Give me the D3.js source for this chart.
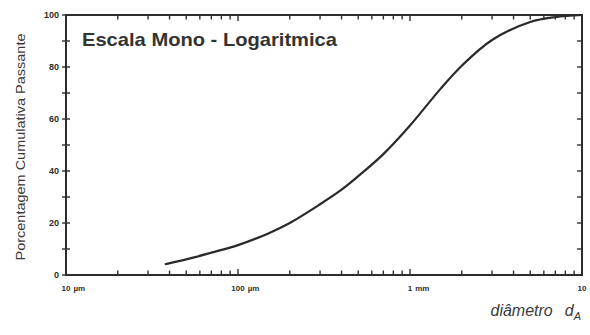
<!DOCTYPE html>
<html>
<head>
<meta charset="utf-8">
<script src="https://cdn.jsdelivr.net/npm/d3@7"></script>
<style>
  html, body { margin: 0; padding: 0; background: #fff; }
  svg { display: block; }
</style>
</head>
<body>
<svg id="chart" width="590" height="335"></svg>
<script>
// Grain size distribution: cumulative percent passing vs. diameter (µm)
const diameters = [38, 50, 70, 100, 150, 200, 300, 400, 500, 700, 1000, 1500, 2000, 3000, 5000, 7000, 10000];
const passing   = [4.2, 6.0, 8.6, 11.5, 16.0, 20.0, 27.2, 32.8, 38.0, 46.5, 57.5, 71.5, 80.5, 90.4, 97.3, 99.2, 100];

const xTickValues = [10, 100, 1000, 10000];
const xTickNumbers = ["10", "100", "1", "10"];
const xTickUnits = ["µm", "µm", "mm", "mm"];
const yTickValues = [0, 20, 40, 60, 80, 100];

const title = "Escala Mono - Logaritmica";
const yTitle = "Porcentagem Cumulativa Passante";

const svg = d3.select("#chart");
const ink = "#2e2e2e";
const font = "Liberation Sans, Arial, sans-serif";

const x = d3.scaleLog().domain([10, 10000]).range([66, 582]);
const y = d3.scaleLinear().domain([0, 100]).range([275, 15]);

// log ticks 1..9 per decade
const logTicks = x.ticks();
const isDecade = v => Math.abs(Math.log10(v) - Math.round(Math.log10(v))) < 1e-9;
const tenTicks = d3.range(0, 101, 10);

const g = svg.append("g");

// bottom ticks (inward)
g.selectAll("line.bt").data(logTicks).join("line").attr("class", "bt")
  .attr("x1", d => x(d)).attr("x2", d => x(d))
  .attr("y1", y(0)).attr("y2", d => y(0) - (isDecade(d) ? 6 : 4.5))
  .attr("stroke", ink).attr("stroke-width", 1.4);

// top ticks (inward)
g.selectAll("line.tt").data(logTicks).join("line").attr("class", "tt")
  .attr("x1", d => x(d)).attr("x2", d => x(d))
  .attr("y1", y(100)).attr("y2", d => y(100) + (isDecade(d) ? 6 : 4.5))
  .attr("stroke", ink).attr("stroke-width", 1.4);

// left ticks (crossing the axis)
g.selectAll("line.lt").data(tenTicks).join("line").attr("class", "lt")
  .attr("x1", x(10) - 4).attr("x2", x(10) + 4)
  .attr("y1", d => y(d)).attr("y2", d => y(d))
  .attr("stroke", ink).attr("stroke-width", 1.4);

// right ticks (inward)
g.selectAll("line.rt").data(tenTicks).join("line").attr("class", "rt")
  .attr("x1", x(10000)).attr("x2", x(10000) - 5)
  .attr("y1", d => y(d)).attr("y2", d => y(d))
  .attr("stroke", ink).attr("stroke-width", 1.4);

// frame
g.append("rect")
  .attr("x", x(10)).attr("y", y(100))
  .attr("width", x(10000) - x(10)).attr("height", y(0) - y(100))
  .attr("fill", "none").attr("stroke", ink).attr("stroke-width", 2);

// y tick labels
g.selectAll("text.yl").data(yTickValues).join("text").attr("class", "yl")
  .attr("x", x(10) - 7).attr("y", d => y(d))
  .attr("dy", "0.35em")
  .attr("text-anchor", "end")
  .attr("font-family", font)
  .attr("font-weight", "bold").attr("font-size", 9)
  .attr("fill", ink)
  .text(d => d);

// x tick labels: number centred on its tick, unit trailing
xTickValues.forEach((v, i) => {
  const probe = g.append("text")
    .attr("font-family", font).attr("font-weight", "bold").attr("font-size", 8)
    .text(xTickNumbers[i]);
  const w = probe.node().getComputedTextLength();
  probe.remove();
  const t = g.append("text")
    .attr("x", x(v) - w / 2).attr("y", 291)
    .attr("font-family", font).attr("font-weight", "bold").attr("font-size", 8)
    .attr("fill", ink);
  t.append("tspan").text(xTickNumbers[i]);
  t.append("tspan").attr("dx", 3).text(xTickUnits[i]);
});

// curve
const line = d3.line()
  .x((d, i) => x(diameters[i]))
  .y(d => y(d))
  .curve(d3.curveCatmullRom.alpha(0.5));

g.append("path")
  .datum(passing)
  .attr("d", line)
  .attr("fill", "none")
  .attr("stroke", "#2a2a2a")
  .attr("stroke-width", 2.2)
  .attr("stroke-linecap", "round");

// title inside plot
g.append("text")
  .attr("x", 82).attr("y", 46)
  .attr("font-family", font).attr("font-weight", "bold").attr("font-size", 18.5)
  .attr("textLength", 255).attr("lengthAdjust", "spacingAndGlyphs")
  .attr("fill", "#333")
  .text(title);

// y axis title
g.append("text")
  .attr("transform", "translate(25,147) rotate(-90)")
  .attr("text-anchor", "middle")
  .attr("font-family", font)
  .attr("font-size", 12)
  .attr("textLength", 227).attr("lengthAdjust", "spacingAndGlyphs")
  .attr("fill", "#3a3a3a")
  .text(yTitle);

// x axis title: diâmetro d_A
const xt = g.append("text")
  .attr("x", 581).attr("y", 316)
  .attr("text-anchor", "end")
  .attr("font-family", font).attr("font-style", "italic")
  .attr("font-size", 16)
  .attr("fill", "#3a3a3a");
xt.append("tspan").text("diâmetro");
xt.append("tspan").attr("dx", 12).text("d");
xt.append("tspan").attr("dy", 4).attr("font-size", 11).text("A");
</script>
</body>
</html>
